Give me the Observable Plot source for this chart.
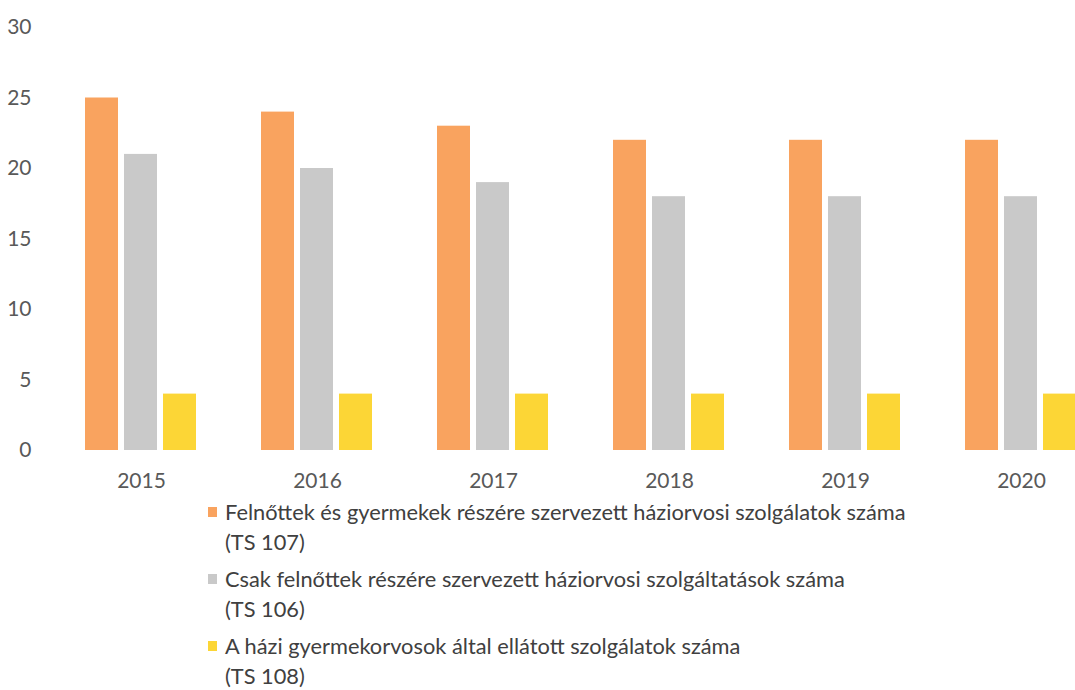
<!DOCTYPE html>
<html>
<head>
<meta charset="utf-8">
<script src="https://cdn.jsdelivr.net/npm/d3@7"></script>
<script src="https://cdn.jsdelivr.net/npm/@observablehq/plot@0.6"></script>
<style>
  html, body { margin: 0; padding: 0; background: #fff; overflow: hidden; width: 1075px; height: 690px; }
  #chart { position: absolute; left: 0; top: 0; width: 1110px; }
  #chart svg { max-width: none !important; }
  .legend { position: absolute; left: 208px; top: 497px; font-family: Lato, "Open Sans", sans-serif; font-size: 21.8px; color: #404040; line-height: 30px; }
  .item { position: relative; padding-left: 17px; margin-bottom: 7px; }
  .sw { position: absolute; left: 0; top: 10px; width: 9px; height: 10px; }
</style>
</head>
<body>
<div id="chart"></div>
<div class="legend" id="legend"></div>
<script>
const years = ["2015", "2016", "2017", "2018", "2019", "2020"];
const seriesNames = [
  "Felnőttek és gyermekek részére szervezett háziorvosi szolgálatok száma (TS 107)",
  "Csak felnőttek részére szervezett háziorvosi szolgáltatások száma (TS 106)",
  "A házi gyermekorvosok által ellátott szolgálatok száma (TS 108)"
];
const legendLines = [
  ["Felnőttek és gyermekek részére szervezett háziorvosi szolgálatok száma", "(TS 107)"],
  ["Csak felnőttek részére szervezett háziorvosi szolgáltatások száma", "(TS 106)"],
  ["A házi gyermekorvosok által ellátott szolgálatok száma", "(TS 108)"]
];
const ts107 = [25, 24, 23, 22, 22, 22];
const ts106 = [21, 20, 19, 18, 18, 18];
const ts108 = [4, 4, 4, 4, 4, 4];
const colors = ["#F9A35F", "#C9C9C9", "#FCD636"];
const yTicks = [0, 5, 10, 15, 20, 25, 30];

const seriesValues = [ts107, ts106, ts108];
const data = [];
years.forEach((yr, i) => {
  seriesNames.forEach((s, j) => data.push({year: yr, series: s, value: seriesValues[j][i]}));
});

const chart = Plot.plot({
  width: 1110,
  height: 495,
  marginLeft: 53,
  marginRight: 1,
  marginTop: 27,
  marginBottom: 45,
  style: {fontFamily: "Lato, 'Open Sans', sans-serif", fontSize: "21px", color: "#595959", background: "#fff", maxWidth: "none"},
  fx: {domain: years, padding: 0, label: null, axis: "bottom", tickSize: 0, tickPadding: 23},
  x: {domain: seriesNames, axis: null, paddingInner: 0.15, paddingOuter: 0.83},
  y: {domain: [0, 30], ticks: yTicks, label: null, tickSize: 0, tickPadding: 22},
  color: {domain: seriesNames, range: colors},
  marks: [
    Plot.barY(data, {fx: "year", x: "series", y: "value", fill: "series"})
  ]
});
document.getElementById("chart").appendChild(chart);

const legend = document.getElementById("legend");
legendLines.forEach((lines, j) => {
  const div = document.createElement("div");
  div.className = "item";
  const sw = document.createElement("span");
  sw.className = "sw";
  sw.style.background = colors[j];
  div.appendChild(sw);
  lines.forEach((t, k) => {
    const d = document.createElement("div");
    d.textContent = t;
    div.appendChild(d);
  });
  legend.appendChild(div);
});
</script>
</body>
</html>
